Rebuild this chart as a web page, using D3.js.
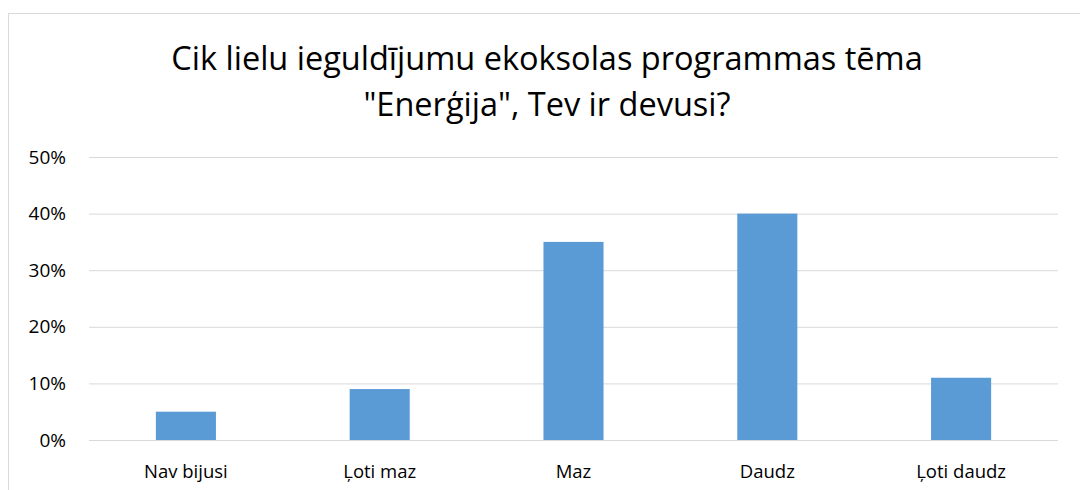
<!DOCTYPE html>
<html><head><meta charset="utf-8">
<script src="https://cdn.jsdelivr.net/npm/d3@7"></script>
<style>body{margin:0;background:#fff}svg{display:block}</style>
</head><body>
<script>
const categories = ["Nav bijusi", "Ļoti maz", "Maz", "Daudz", "Ļoti daudz"];
const values = [0.05, 0.09, 0.35, 0.40, 0.11];
const yTicks = [0, 0.1, 0.2, 0.3, 0.4, 0.5];
const titleLines = ["Cik lielu ieguldījumu ekoksolas programmas tēma", "\"Enerģija\", Tev ir devusi?"];

(function () {
const W = 1080, H = 490;
const font = "'Open Sans', 'Noto Sans', sans-serif";
const svg = d3.select("body").append("svg").attr("width", W).attr("height", H);
svg.append("rect").attr("x", 8.5).attr("y", 13.5).attr("width", W).attr("height", H)
  .attr("fill", "#fff").attr("stroke", "#d9d9d9").attr("stroke-width", 1);

const pL = 89, pR = 1058, pT = 157, pB = 440;
const x = d3.scaleBand().domain(categories).range([pL, pR]).paddingInner(0.69).paddingOuter(0.345);
const y = d3.scaleLinear().domain([0, 0.5]).range([pB, pT]);

const gy = svg.append("g").attr("transform", `translate(${pL},0)`)
  .call(d3.axisLeft(y).tickValues(yTicks).tickFormat(d3.format(".0%")).tickSize(-(pR - pL)).tickPadding(23));
gy.select(".domain").remove();
gy.selectAll(".tick line").attr("stroke", "#d9d9d9").attr("stroke-width", 1);
gy.selectAll(".tick text").attr("font-family", font).attr("font-size", 19).attr("fill", "#000");

svg.append("g").selectAll("rect").data(values).join("rect")
  .attr("x", (d, i) => x(categories[i]))
  .attr("width", x.bandwidth())
  .attr("y", d => y(d))
  .attr("height", d => y(0) - y(d))
  .attr("fill", "#5b9bd5");

const gx = svg.append("g").attr("transform", `translate(0,${pB})`)
  .call(d3.axisBottom(x).tickSize(0).tickPadding(25));
gx.select(".domain").remove();
gx.selectAll(".tick text").attr("font-family", font).attr("font-size", 18.5).attr("fill", "#000");

svg.append("g").selectAll("text").data(titleLines).join("text")
  .attr("x", 547).attr("y", (d, i) => 70 + i * 46)
  .attr("text-anchor", "middle").attr("font-family", font).attr("font-size", 32.5).attr("fill", "#000")
  .text(d => d);
})();
</script>
</body></html>
